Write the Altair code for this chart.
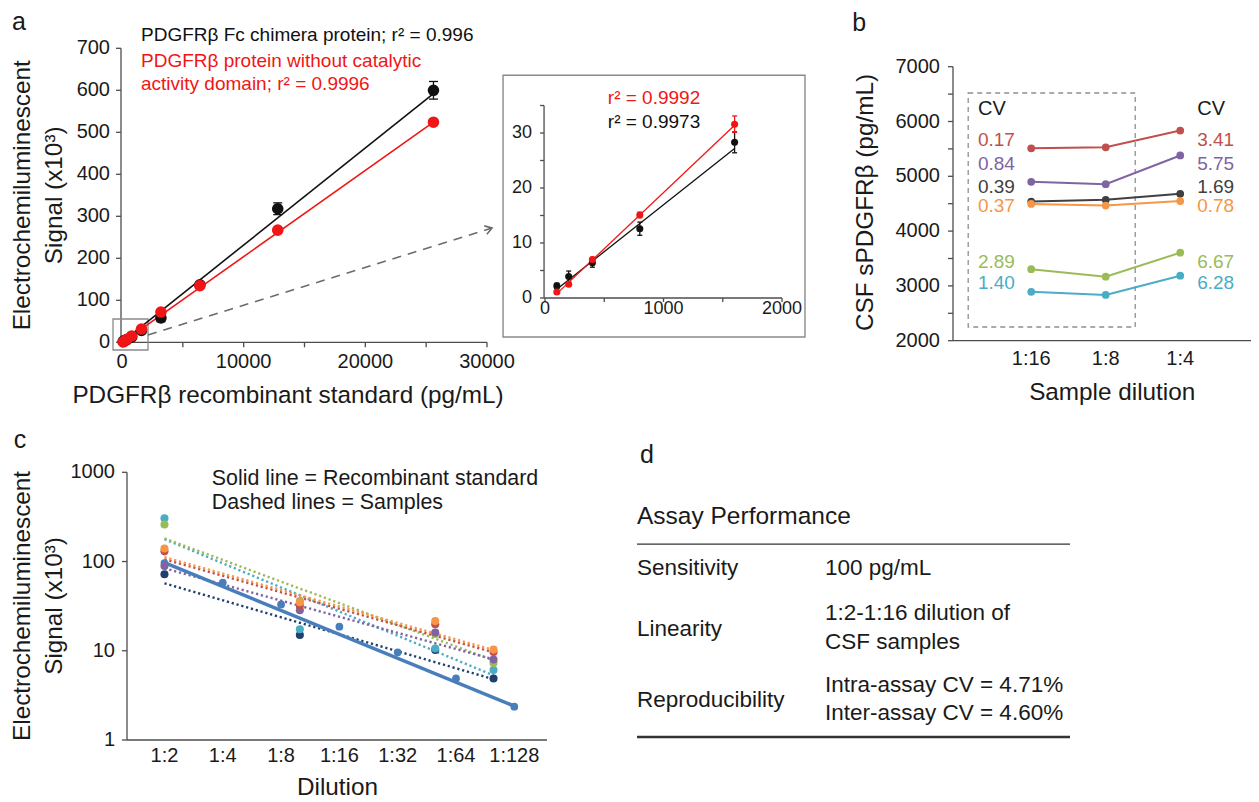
import altair as alt
import pandas as pd

FONT = "Liberation Sans"
W, H = 1243, 792
AXC = "#4d4d4d"
TXT = "#1a1a1a"

# ====================== DATA ======================
# (a) standard curves
a_dose = [100, 200, 400, 800, 1600, 3200, 6400, 12800, 25600]
a_fc_mean = [2.2, 3.9, 6.4, 12.6, 28.3, 58, 137, 318, 600]
a_fc_err = [0.5, 1.0, 0.8, 1.2, 1.9, 9, 6, 14, 21]
a_nc_mean = [1.1, 2.5, 7.0, 15.1, 31.6, 72, 135, 267, 524]
a_nc_err = [0.2, 0.3, 0.4, 0.5, 1.5, 5, 4, 4, 4]
a_fit_dose = [100, 25600]
a_fc_fit = [3, 592]
a_nc_fit = [1, 524]
a_inset_max_dose = 1600
a_inset_fit_dose = [100, 1600]
a_inset_fc_fit = [1.6, 27.2]
a_inset_nc_fit = [0.8, 31.4]
a_fc_label = ["PDGFRβ Fc chimera protein; r² = 0.996"]
a_nc_label = ["PDGFRβ protein without catalytic", "activity domain; r² = 0.9996"]
a_inset_labels = ["r² = 0.9992", "r² = 0.9973"]
a_x_ticks = [0, 5000, 10000, 15000, 20000, 25000, 30000]
a_x_labels = ["0", "10000", "20000", "30000"]
a_y_ticks = [0, 100, 200, 300, 400, 500, 600, 700]
a_inset_x_ticks = [0, 500, 1000, 1500, 2000]
a_inset_x_labels = ["0", "1000", "2000"]
a_inset_y_ticks = [0, 5, 10, 15, 20, 25, 30, 35]
a_inset_y_labels = ["0", "10", "20", "30"]
a_x_title = "PDGFRβ recombinant standard (pg/mL)"
signal_title = ["Electrochemiluminescent", "Signal (x10³)"]

# (b) dilution linearity of CSF samples
b_dilutions = ["1:16", "1:8", "1:4"]
b_red = [5510, 5530, 5835]
b_purple = [4900, 4855, 5380]
b_black = [4540, 4570, 4680]
b_orange = [4495, 4465, 4548]
b_green = [3305, 3168, 3606]
b_cyan = [2893, 2835, 3186]
b_cv_left = ["0.17", "0.84", "0.39", "0.37", "2.89", "1.40"]
b_cv_right = ["3.41", "5.75", "1.69", "0.78", "6.67", "6.28"]
b_y_ticks = [2000, 2500, 3000, 3500, 4000, 4500, 5000, 5500, 6000, 6500, 7000]
b_y_labels = ["2000", "3000", "4000", "5000", "6000", "7000"]
b_x_title = "Sample dilution"
b_y_title = "CSF sPDGFRβ (pg/mL)"

# (c) parallelism
c_dil_ticks = [2, 4, 8, 16, 32, 64, 128]
c_dil_labels = ["1:2", "1:4", "1:8", "1:16", "1:32", "1:64", "1:128"]
c_y_ticks = [1, 10, 100, 1000]
c_y_labels = ["1", "10", "100", "1000"]
c_std_dil = [2, 4, 8, 16, 32, 64, 128]
c_std_signal = [96, 58, 33, 18.6, 9.6, 4.9, 2.36]
c_std_fit_dil = [2, 128]
c_std_fit = [97, 2.4]
c_sample_dil = [2, 10, 50, 100]
c_navy = [72, 15, 10.2, 4.9]
c_cyan = [305, 17.4, 10.6, 6.1]
c_green = [260, 36, 15.4, 7.3]
c_orange = [140, 35, 21.5, 10.3]
c_red = [130, 32, 19.8, 9.7]
c_purple = [89, 28.5, 16, 8.0]
c_fit_dil = [2, 100]
c_navy_fit = [57, 4.8]
c_cyan_fit = [178, 5.3]
c_green_fit = [182, 7.8]
c_orange_fit = [112, 10.2]
c_red_fit = [106, 9.6]
c_purple_fit = [84, 8.0]
c_notes = ["Solid line = Recombinant standard", "Dashed lines = Samples"]
c_x_title = "Dilution"

# (d) assay performance table
d_header = "Assay Performance"
d_params = ["Sensitivity", "Linearity", "Reproducibility"]
d_values = [["100 pg/mL"], ["1:2-1:16 dilution of", "CSF samples"],
            ["Intra-assay CV = 4.71%", "Inter-assay CV = 4.60%"]]

# ====================== STYLE ======================
COL6 = {"red": "#c0504d", "purple": "#8064a2", "black": "#404040",
        "orange": "#f79646", "green": "#9bbb59", "cyan": "#4bacc6",
        "navy": "#1f3f6e"}
STD_BLUE = "#4a7ebb"
BLACK = "#111111"
RED = "#f01616"


def xy(xs, ys, xf="x:Q", yf="y:Q"):
    return dict(x=alt.X(xf, scale=xs, axis=None), y=alt.Y(yf, scale=ys, axis=None))


def text_layer(df, xs, ys, size, align="left", baseline="middle", **kw):
    return alt.Chart(df).mark_text(font=FONT, fontSize=size, align=align,
                                   baseline=baseline, **kw).encode(
        **xy(xs, ys), text="t:N", color=alt.Color("c:N", scale=None))


def one_text(t, x, y, xs, ys, size, color=TXT, **kw):
    return text_layer(pd.DataFrame({"t": [t], "x": [x], "y": [y], "c": [color]}),
                      xs, ys, size, **kw)


def hline(xs, ys, x0, x1, y, color=AXC, w=1.3):
    return alt.Chart(pd.DataFrame({"x": [x0], "x2": [x1], "y": [y]})).mark_rule(
        color=color, strokeWidth=w).encode(**xy(xs, ys), x2="x2:Q")


def vline(xs, ys, x, y0, y1, color=AXC, w=1.3):
    return alt.Chart(pd.DataFrame({"x": [x], "y": [y0], "y2": [y1]})).mark_rule(
        color=color, strokeWidth=w).encode(**xy(xs, ys), y2="y2:Q")


def x_axis(xs, ys, x0, x1, y_at, ticks, lab_vals, labels, tick_len, dy, fs):
    out = [hline(xs, ys, x0, x1, y_at)]
    if tick_len:
        out.append(alt.Chart(pd.DataFrame({"x": ticks, "y": [y_at] * len(ticks)})).mark_tick(
            orient="vertical", size=tick_len, thickness=1.3, yOffset=tick_len / 2,
            color=AXC, opacity=1).encode(**xy(xs, ys)))
    out.append(text_layer(pd.DataFrame({"t": labels, "x": lab_vals, "y": [y_at] * len(labels),
                                        "c": [TXT] * len(labels)}),
                          xs, ys, fs, align="center", dy=dy))
    return out


def y_axis(xs, ys, x_at, y0, y1, ticks, lab_vals, labels, tick_len, dx, fs):
    out = [vline(xs, ys, x_at, y0, y1)]
    if tick_len:
        out.append(alt.Chart(pd.DataFrame({"x": [x_at] * len(ticks), "y": ticks})).mark_tick(
            orient="horizontal", size=tick_len, thickness=1.3, xOffset=-tick_len / 2,
            color=AXC, opacity=1).encode(**xy(xs, ys)))
    out.append(text_layer(pd.DataFrame({"t": labels, "x": [x_at] * len(labels), "y": lab_vals,
                                        "c": [TXT] * len(labels)}),
                          xs, ys, fs, align="right", dx=dx))
    return out


def series(dose, mean, err, fit_x, fit_y, color, xs, ys, pt, cap, lw):
    d = pd.DataFrame({"x": dose, "y": mean,
                      "lo": [m - e for m, e in zip(mean, err)],
                      "hi": [m + e for m, e in zip(mean, err)]})
    f = pd.DataFrame({"x": fit_x, "y": fit_y})
    line = alt.Chart(f).mark_line(color=color, strokeWidth=lw).encode(**xy(xs, ys))
    bars = alt.Chart(d).mark_rule(color=color, strokeWidth=1.3).encode(
        **xy(xs, ys, yf="lo:Q"), y2="hi:Q")
    clo = alt.Chart(d).mark_tick(color=color, orient="horizontal", size=cap,
                                 thickness=1.3, opacity=1).encode(**xy(xs, ys, yf="lo:Q"))
    chi = alt.Chart(d).mark_tick(color=color, orient="horizontal", size=cap,
                                 thickness=1.3, opacity=1).encode(**xy(xs, ys, yf="hi:Q"))
    pts = alt.Chart(d).mark_circle(color=color, size=pt, opacity=1).encode(**xy(xs, ys))
    return line, [bars, clo, chi, pts]


def num_vals(labels):
    return [float(s) for s in labels]


# ---------------- panel a (main) ----------------
A_X = alt.Scale(domain=[0, 30000], range=[114, 479], nice=False, zero=False)
A_Y = alt.Scale(domain=[0, 700], range=[334.3, 40.3], nice=False, zero=False)
a_axes = (x_axis(A_X, A_Y, -82, 30000, 0, a_x_ticks, num_vals(a_x_labels), a_x_labels, 5, 20, 20)
          + y_axis(A_X, A_Y, -82, 0, 700, a_y_ticks, a_y_ticks, [str(v) for v in a_y_ticks], 5, -11, 20)
          + [one_text(a_x_title, 13643, 0, A_X, A_Y, 24.3, align="center", dy=54),
             one_text(signal_title[0], -8178, 350, A_X, A_Y, 24.3, align="center", angle=270),
             one_text(signal_title[1], -5490, 350, A_X, A_Y, 24.3, align="center", angle=270)])
a_box = alt.Chart(pd.DataFrame({"x": [-740], "x2": [2137], "y": [-18.3], "y2": [55.5]})).mark_rect(
    fillOpacity=0, stroke="#8a8a8a", strokeWidth=1.3).encode(**xy(A_X, A_Y), x2="x2:Q", y2="y2:Q")
arrow_df = pd.DataFrame({"x": [2137, 30410], "y": [17.4, 272]})
a_arrow = alt.Chart(arrow_df).mark_line(color="#6b6b6b", strokeWidth=1.6,
                                        strokeDash=[9, 7]).encode(**xy(A_X, A_Y))
a_head = alt.Chart(arrow_df.iloc[[1]]).mark_point(
    shape="M-1,-0.65L0,0L-1,0.65", filled=False, size=180, angle=342.7,
    color="#6b6b6b", strokeWidth=1.6, opacity=1).encode(**xy(A_X, A_Y))
fc_line, fc_pts = series(a_dose, a_fc_mean, a_fc_err, a_fit_dose, a_fc_fit, BLACK,
                         A_X, A_Y, 135, 9, 1.6)
nc_line, nc_pts = series(a_dose, a_nc_mean, a_nc_err, a_fit_dose, a_nc_fit, RED,
                         A_X, A_Y, 135, 9, 1.6)
a_text = text_layer(pd.DataFrame({"t": a_fc_label + a_nc_label, "x": [1562] * 3,
                                  "y": [731.7, 669.8, 615.0],
                                  "c": [BLACK, RED, RED]}), A_X, A_Y, 19)
a_letter = one_text("a", -8466, 742.4, A_X, A_Y, 25, align="center", baseline="alphabetic")
panel_a = alt.layer(*a_axes, a_box, a_arrow, a_head, fc_line, nc_line, *fc_pts, *nc_pts,
                    a_text, a_letter)

# ---------------- panel a (inset) ----------------
I_X = alt.Scale(domain=[0, 2000], range=[537, 774], nice=False, zero=False)
I_Y = alt.Scale(domain=[0, 35], range=[290, 97.5], nice=False, zero=False)
i_axes = (x_axis(I_X, I_Y, -8, 2000, 0, a_inset_x_ticks, num_vals(a_inset_x_labels),
                 a_inset_x_labels, 4, 11, 18)
          + y_axis(I_X, I_Y, -8, 0, 35, a_inset_y_ticks, num_vals(a_inset_y_labels),
                   a_inset_y_labels, 4, -12, 18))
sel = [i for i, d in enumerate(a_dose) if d <= a_inset_max_dose]
i_box = alt.Chart(pd.DataFrame({"x": [-354], "x2": [2194], "y": [-7.1], "y2": [40.5]})).mark_rect(
    fillOpacity=0, stroke="#8a8a8a", strokeWidth=1.4).encode(**xy(I_X, I_Y), x2="x2:Q", y2="y2:Q")
ifc_line, ifc_pts = series([a_dose[i] for i in sel], [a_fc_mean[i] for i in sel],
                           [a_fc_err[i] for i in sel], a_inset_fit_dose, a_inset_fc_fit,
                           BLACK, I_X, I_Y, 50, 5, 1.3)
inc_line, inc_pts = series([a_dose[i] for i in sel], [a_nc_mean[i] for i in sel],
                           [a_nc_err[i] for i in sel], a_inset_fit_dose, a_inset_nc_fit,
                           RED, I_X, I_Y, 50, 5, 1.3)
i_text = text_layer(pd.DataFrame({"t": a_inset_labels, "x": [920, 920], "y": [36.3, 32.05],
                                  "c": [RED, BLACK]}), I_X, I_Y, 19, align="center")
panel_inset = alt.layer(i_box, *i_axes, ifc_line, inc_line, *ifc_pts, *inc_pts, i_text)

# ---------------- panel b ----------------
B_X = alt.Scale(domain=[-0.05, 3.95], range=[945, 1243], nice=False, zero=False)
B_Y = alt.Scale(domain=[2000, 7000], range=[332.7, 58.7], nice=False, zero=False)
b_axes = (x_axis(B_X, B_Y, -0.05, 3.95, 2000, [], [1, 2, 3], b_dilutions, 0, 18, 20)
          + y_axis(B_X, B_Y, -0.05, 2000, 7000, b_y_ticks, num_vals(b_y_labels), b_y_labels,
                   5, -13, 20)
          + [one_text(b_x_title, 2.087, 2000, B_X, B_Y, 24.3, align="center", dy=52),
             one_text(b_y_title, -1.215, 4522, B_X, B_Y, 24.3, align="center", angle=270)])
b_series = [("red", b_red), ("purple", b_purple), ("black", b_black),
            ("orange", b_orange), ("green", b_green), ("cyan", b_cyan)]
b_rows = []
for name, vals in b_series:
    for i, v in enumerate(vals):
        b_rows.append({"s": name, "x": i + 1, "y": v, "c": COL6[name]})
b_df = pd.DataFrame(b_rows)
b_box = alt.Chart(pd.DataFrame({"x": [0.154], "x2": [2.396], "y": [2250], "y2": [6520]})).mark_rect(
    fillOpacity=0, stroke="#8f8f8f", strokeWidth=1.3, strokeDash=[5, 4]).encode(
    **xy(B_X, B_Y), x2="x2:Q", y2="y2:Q")
b_lines = alt.Chart(b_df).mark_line(strokeWidth=2).encode(
    **xy(B_X, B_Y), detail="s:N", color=alt.Color("c:N", scale=None))
b_pts = alt.Chart(b_df).mark_circle(size=60, opacity=1).encode(
    **xy(B_X, B_Y), color=alt.Color("c:N", scale=None))
cv_y = [5662, 5219, 4805, 4464, 3442, 3047]
cv_cols = [COL6[n] for n, _ in b_series]
b_cv = text_layer(pd.DataFrame({"t": b_cv_left + b_cv_right,
                                "x": [0.285] * 6 + [3.228] * 6,
                                "y": cv_y * 2, "c": cv_cols * 2}), B_X, B_Y, 19)
b_cvh = text_layer(pd.DataFrame({"t": ["CV", "CV"], "x": [0.285, 3.228], "y": [6228, 6228],
                                 "c": [TXT, TXT]}), B_X, B_Y, 20)
b_letter = one_text("b", -1.309, 7660, B_X, B_Y, 25, align="center", baseline="alphabetic")
panel_b = alt.layer(*b_axes, b_box, b_lines, b_pts, b_cv, b_cvh, b_letter)

# ---------------- panel c ----------------
C_X = alt.Scale(type="log", base=2, domain=[1.281, 188.8], range=[119, 539], nice=False)
C_Y = alt.Scale(type="log", domain=[1, 1000], range=[732, 464.3], nice=False)
c_axes = (x_axis(C_X, C_Y, 1.281, 188.8, 1, [], c_dil_ticks, c_dil_labels, 0, 16, 20)
          + y_axis(C_X, C_Y, 1.281, 1, 1000, c_y_ticks, c_y_ticks, c_y_labels, 5, -12, 20)
          + [one_text(c_x_title, 15.64, 1, C_X, C_Y, 24.3, align="center", dy=47.5),
             one_text(signal_title[0], 0.370, 31.8, C_X, C_Y, 24.3, align="center", angle=270),
             one_text(signal_title[1], 0.546, 31.8, C_X, C_Y, 24.3, align="center", angle=270)])
c_samples = [("navy", c_navy, c_navy_fit), ("cyan", c_cyan, c_cyan_fit),
             ("green", c_green, c_green_fit), ("purple", c_purple, c_purple_fit),
             ("red", c_red, c_red_fit), ("orange", c_orange, c_orange_fit)]
fit_rows, pt_rows = [], []
for name, vals, fit in c_samples:
    for d, v in zip(c_fit_dil, fit):
        fit_rows.append({"s": name, "x": d, "y": v, "c": COL6[name]})
    for d, v in zip(c_sample_dil, vals):
        pt_rows.append({"s": name, "x": d, "y": v, "c": COL6[name]})
c_fits = alt.Chart(pd.DataFrame(fit_rows)).mark_line(strokeWidth=2.4, strokeDash=[2.2, 2.8]).encode(
    **xy(C_X, C_Y), detail="s:N", color=alt.Color("c:N", scale=None))
c_std_line = alt.Chart(pd.DataFrame({"x": c_std_fit_dil, "y": c_std_fit})).mark_line(
    color=STD_BLUE, strokeWidth=3.5).encode(**xy(C_X, C_Y))
c_std_pts = alt.Chart(pd.DataFrame({"x": c_std_dil, "y": c_std_signal})).mark_circle(
    color=STD_BLUE, size=60, opacity=1).encode(**xy(C_X, C_Y))
c_pts = alt.Chart(pd.DataFrame(pt_rows)).mark_circle(size=65, opacity=1).encode(
    **xy(C_X, C_Y), color=alt.Color("c:N", scale=None))
c_text = text_layer(pd.DataFrame({"t": c_notes, "x": [3.51, 3.51], "y": [843, 454],
                                  "c": [TXT, TXT]}), C_X, C_Y, 21.4)
c_letter = one_text("c", 0.359, 1879, C_X, C_Y, 25, align="center", baseline="alphabetic")
panel_c = alt.layer(*c_axes, c_fits, c_std_line, c_std_pts, c_pts, c_text, c_letter)

# ---------------- panel d ----------------
D_X = alt.Scale(domain=[0, 1], range=[629, 1062], nice=False, zero=False)
D_Y = alt.Scale(domain=[0, 7.72], range=[509, 729], nice=False, zero=False)
param_y = [1.8, 3.93, 6.42]
value_y = [[1.8], [3.37, 4.39], [5.89, 6.88]]
d_rows = []
for p, py, vals, vys in zip(d_params, param_y, d_values, value_y):
    d_rows.append({"t": p, "x": 0, "y": py, "c": TXT})
    for v, vy in zip(vals, vys):
        d_rows.append({"t": v, "x": 0.434, "y": vy, "c": TXT})
d_text = text_layer(pd.DataFrame(d_rows), D_X, D_Y, 22.5)
d_head = one_text(d_header, 0, 0, D_X, D_Y, 24.5)
d_rule_top = hline(D_X, D_Y, 0, 1, 0.95, color="#333333", w=1.3)
d_rule_bot = hline(D_X, D_Y, 0, 1, 7.72, color="#333333", w=2.6)
d_letter = one_text("d", 0.023, -1.895, D_X, D_Y, 25, align="center", baseline="alphabetic")
panel_d = alt.layer(d_head, d_text, d_rule_top, d_rule_bot, d_letter)

chart = alt.layer(panel_a, panel_inset, panel_b, panel_c, panel_d).resolve_scale(
    x="independent", y="independent", color="independent"
).properties(
    width=W, height=H, padding=0, autosize=alt.AutoSizeParams(type="none"),
    background="white"
).configure_view(stroke=None)

chart.save("out.html", embed_options={"renderer": "svg", "actions": False})
